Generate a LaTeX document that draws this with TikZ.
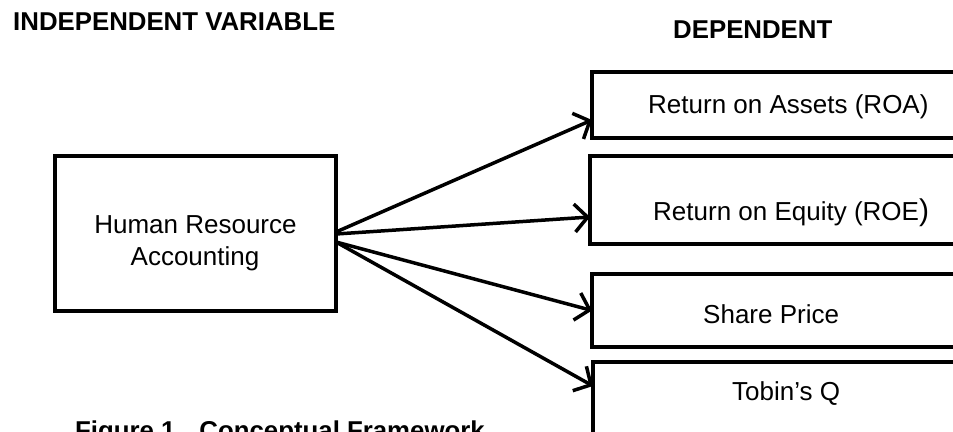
\documentclass[tikz,border=0pt]{standalone}
\usepackage{fontspec}
\setmainfont{Liberation Sans}
\usetikzlibrary{arrows.meta}
\begin{document}
\begin{tikzpicture}[x=1pt,y=-1pt,
  box/.style={draw, line width=3.5pt, rectangle, inner sep=0pt, outer sep=0pt, anchor=north west},
  txt/.style={inner sep=0pt, anchor=base west, font=\fontsize{26}{30}\selectfont},
  head/.style={inner sep=0pt, anchor=base west, font=\fontsize{25.8}{30}\selectfont\bfseries},
  arr/.style={line width=3.5pt, -{Straight Barb[length=13pt,width=28pt]}}]
\useasboundingbox (0,0) rectangle (953,431);
\clip (0,0) rectangle (953,431);
% boxes
\node[box, minimum width=281pt, minimum height=155pt] (hra) at (55,156) {};
\node[box, minimum width=420pt, minimum height=66pt] (roa) at (592,72) {};
\node[box, minimum width=420pt, minimum height=88pt] (roe) at (590,156) {};
\node[box, minimum width=420pt, minimum height=73pt] (share) at (592,274) {};
\node[box, minimum width=420pt, minimum height=120pt] (tobin) at (593,362) {};
% texts
\node[head] (indep) at (13,30) {INDEPENDENT VARIABLE};
\node[head] (dep) at (673,38) {DEPENDENT};
\node[txt] (roat) at (648,113) {Return on Assets (ROA)};
\node[txt] (roet) at (653,220) {Return on Equity (ROE{\fontsize{30}{30}\selectfont )}};
\node[txt] (sharet) at (703,323) {Share Price};
\node[txt] (tobint) at (732,400) {Tobin’s Q};
\node[txt, anchor=base] (hra1) at (195.5,233) {Human Resource};
\node[txt, anchor=base] (hra2) at (195,265) {Accounting};
\node[head] (cap) at (75,439) {Figure 1.~ Conceptual Framework};
% arrows
\draw[arr] ([yshift=1.5pt]hra.east) -- ([yshift=-15pt]roa.west);
\draw[arr] ([yshift=-0.5pt]hra.east) -- ([yshift=-17pt]roe.west);
\draw[arr] ([yshift=-8.5pt]hra.east) -- (share.west);
\draw[arr] ([yshift=-8.5pt]hra.east) -- ([yshift=-24pt]tobin.north west);
\end{tikzpicture}
\end{document}
